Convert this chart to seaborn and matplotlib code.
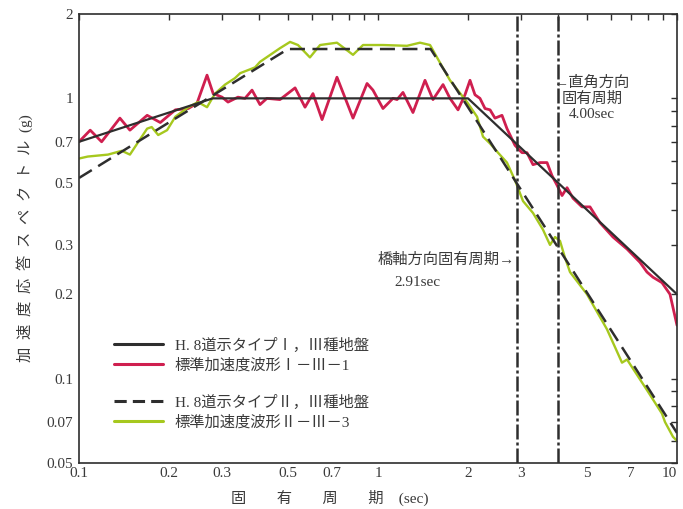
import numpy as np
import pandas as pd
import matplotlib
matplotlib.use("Agg")
import matplotlib.pyplot as plt
import seaborn as sns
from matplotlib.ticker import FixedLocator, FixedFormatter, NullFormatter
from matplotlib.lines import Line2D

# H.8 road spec design spectra, corner points (period sec, response g)
type1_T = [0.1, 0.28, 2.0, 10.0]
type1_S = [0.70, 1.0, 1.0, 0.20]
type2_T = [0.1, 0.5, 1.5, 10.0]
type2_S = [0.52, 1.5, 1.5, 0.064]

# standard acceleration waveform I-III-1
wave1_T = [0.1, 0.109, 0.119, 0.137, 0.148, 0.169, 0.187, 0.21, 0.232, 0.248,
           0.268, 0.281, 0.301, 0.315, 0.34, 0.359, 0.379, 0.403, 0.425, 0.47,
           0.528, 0.57, 0.606, 0.65, 0.729, 0.825, 0.919, 0.962, 1.039, 1.122,
           1.158, 1.212, 1.309, 1.436, 1.527, 1.65, 1.741, 1.852, 1.954, 2.031,
           2.11, 2.193, 2.28, 2.37, 2.462, 2.598, 2.7, 2.872, 3.031, 3.15,
           3.299, 3.482, 3.675, 3.819, 3.97, 4.126, 4.288, 4.491, 4.812, 5.117,
           5.526, 6.109, 6.806, 7.52, 7.937, 8.313, 8.909, 9.475, 10.0]
wave1_S = [0.70, 0.77, 0.70, 0.85, 0.77, 0.87, 0.82, 0.91, 0.92, 0.96,
           1.21, 1.04, 1.01, 0.97, 1.01, 1.00, 1.07, 0.95, 1.00, 0.99,
           1.09, 0.93, 1.04, 0.84, 1.19, 0.85, 1.13, 1.07, 0.92, 1.00,
           0.99, 1.05, 0.89, 1.16, 0.99, 1.12, 1.00, 0.91, 1.03, 1.16,
           1.03, 1.00, 0.92, 0.91, 0.85, 0.87, 0.78, 0.68, 0.64, 0.64,
           0.58, 0.59, 0.59, 0.53, 0.49, 0.45, 0.48, 0.44, 0.41, 0.41,
           0.36, 0.32, 0.29, 0.26, 0.24, 0.23, 0.22, 0.20, 0.155]

# standard acceleration waveform II-III-3
wave2_T = [0.1, 0.107, 0.125, 0.139, 0.148, 0.169, 0.175, 0.184, 0.197, 0.21,
           0.232, 0.25, 0.268, 0.285, 0.308, 0.332, 0.346, 0.388, 0.403, 0.47,
           0.508, 0.54, 0.592, 0.64, 0.729, 0.825, 0.891, 1.04, 1.25, 1.382,
           1.493, 1.612, 1.741, 1.985, 2.144, 2.245, 2.37, 2.52, 2.7, 2.872,
           3.055, 3.299, 3.563, 3.761, 3.91, 4.062, 4.221, 4.387, 5.0, 5.832,
           6.548, 6.806, 7.937, 8.909, 9.119, 9.697, 10.0]
wave2_S = [0.61, 0.62, 0.63, 0.65, 0.63, 0.78, 0.79, 0.74, 0.77, 0.86,
           0.93, 0.97, 0.93, 1.04, 1.12, 1.18, 1.23, 1.29, 1.35, 1.51,
           1.59, 1.55, 1.40, 1.55, 1.58, 1.43, 1.55, 1.55, 1.54, 1.58,
           1.55, 1.34, 1.16, 0.97, 0.86, 0.73, 0.69, 0.64, 0.59, 0.51,
           0.43, 0.39, 0.34, 0.30, 0.32, 0.31, 0.27, 0.24, 0.20, 0.15,
           0.114, 0.117, 0.091, 0.075, 0.070, 0.062, 0.060]

bridge_period = 2.91
cross_period = 4.00

x_ticks = [0.1, 0.2, 0.3, 0.5, 0.7, 1, 2, 3, 5, 7, 10]
x_labels = ['0.1', '0.2', '0.3', '0.5', '0.7', '1', '2', '3', '5', '7', '10']
x_minor = [0.4, 0.6, 0.8, 0.9, 4, 6, 8, 9]
y_ticks = [0.05, 0.07, 0.1, 0.2, 0.3, 0.5, 0.7, 1, 2]
y_labels = ['0.05', '0.07', '0.1', '0.2', '0.3', '0.5', '0.7', '1', '2']
y_minor = [0.06, 0.08, 0.09, 0.4, 0.6, 0.8, 0.9]

legend_labels = ['H. 8道示タイプⅠ，Ⅲ種地盤', '標準加速度波形Ⅰ－Ⅲ－1',
                 'H. 8道示タイプⅡ，Ⅲ種地盤', '標準加速度波形Ⅱ－Ⅲ－3']

sns.set_style("white")
plt.rcParams['font.family'] = ['Liberation Serif', 'Noto Sans CJK JP', 'DejaVu Sans']

text_col = '#3a3a3a'
line_col = '#2e2e2e'
red = '#cf1f4f'
green = '#a6c81e'

fig = plt.figure(figsize=(6.83, 5.09), dpi=100)
ax = fig.add_axes([0.1157, 0.0904, 0.8755, 0.8821])

sns.lineplot(x=wave1_T, y=wave1_S, sort=False, estimator=None, color=red, lw=2.0,
             solid_joinstyle='round', ax=ax)
sns.lineplot(x=wave2_T, y=wave2_S, sort=False, estimator=None, color=green, lw=1.7,
             solid_joinstyle='round', ax=ax)
sns.lineplot(x=type1_T, y=type1_S, sort=False, estimator=None, color=line_col, lw=1.6, ax=ax)
ax.plot(type2_T, type2_S, color=line_col, lw=1.8, dashes=(6, 3))

for p in [bridge_period, cross_period]:
    ax.axvline(p, color=line_col, lw=1.8, dashes=(6, 1.2, 1.2, 1.2))

ax.set_xscale('log')
ax.set_yscale('log')
ax.set_xlim(0.1, 10)
ax.set_ylim(0.05, 2)

ax.xaxis.set_major_locator(FixedLocator(x_ticks))
ax.xaxis.set_major_formatter(FixedFormatter(x_labels))
ax.xaxis.set_minor_locator(FixedLocator(x_minor))
ax.xaxis.set_minor_formatter(NullFormatter())
ax.yaxis.set_major_locator(FixedLocator(y_ticks))
ax.yaxis.set_major_formatter(FixedFormatter(y_labels))
ax.yaxis.set_minor_locator(FixedLocator(y_minor))
ax.yaxis.set_minor_formatter(NullFormatter())
ax.tick_params(which='both', direction='in', top=True, right=True, length=4,
               width=1.0, color=line_col, labelsize=11, labelcolor=text_col)
ax.tick_params(axis='x', pad=3)
ax.tick_params(axis='y', pad=4)
for s in ax.spines.values():
    s.set_color(line_col)
    s.set_linewidth(1.2)

# keep the "10" label inside the figure
ax.get_xticklabels()[-1].set_ha('right')

ax.set_xlabel('固　　有　　周　　期　(sec)', fontsize=11, color=text_col, labelpad=2)
ax.xaxis.set_label_coords(0.42, -0.06)
ax.set_ylabel('加  速  度  応  答  ス  ペ  ク  ト  ル  (g)', fontsize=11, color=text_col, labelpad=10)

ax.text(5.2, 1.0, '←直角方向\n固有周期\n4.00sec', ha='center', va='center',
        fontsize=11, color=text_col, linespacing=1.15)
ax.text(2.87, 0.265, '橋軸方向固有周期→', ha='right', va='center', fontsize=11, color=text_col)
ax.text(1.36, 0.221, '2.91sec', ha='center', va='center', fontsize=11, color=text_col)

h1 = [Line2D([], [], color=line_col, lw=2.2), Line2D([], [], color=red, lw=2.2)]
h2 = [Line2D([], [], color=line_col, lw=2.2, dashes=(4, 2)), Line2D([], [], color=green, lw=2.2)]
leg1 = ax.legend(h1, legend_labels[:2], loc='upper left', bbox_to_anchor=(0.035, 0.31),
                 frameon=False, fontsize=11, handlelength=3.2, handletextpad=0.8,
                 labelspacing=0.35, labelcolor=text_col)
ax.add_artist(leg1)
ax.legend(h2, legend_labels[2:], loc='upper left', bbox_to_anchor=(0.035, 0.183),
          frameon=False, fontsize=11, handlelength=3.2, handletextpad=0.8,
          labelspacing=0.35, labelcolor=text_col)

fig.savefig('out.png', dpi=100)
